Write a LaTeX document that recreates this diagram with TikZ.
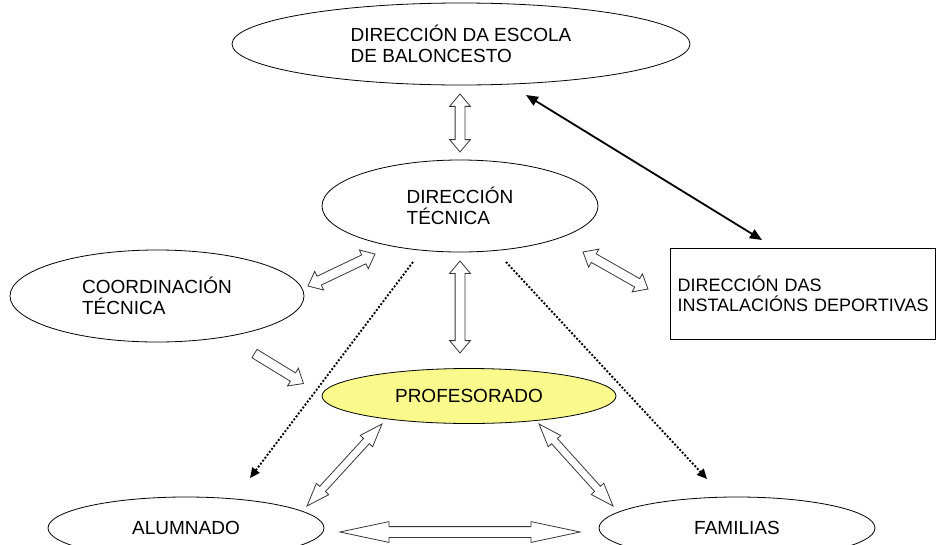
\documentclass[tikz,border=0pt]{standalone}
\usepackage{fontspec}
\setmainfont{Liberation Sans}
\usetikzlibrary{shapes.geometric,shapes.arrows,arrows.meta,calc}
\definecolor{profyellow}{RGB}{250,250,140}
\definecolor{arrgray}{RGB}{55,55,55}
\newcommand\blockarr[3][]{%
  \path let \p1=($(#3)-(#2)$), \n1={atan2(\y1,\x1)}, \n2={veclen(\x1,\y1)} in
    node[#1, rotate=\n1, minimum height=\n2] at ($(#2)!0.5!(#3)$) {};}
\begin{document}
\begin{tikzpicture}[x=1pt,y=-1pt,
  ell/.style={ellipse, draw, line width=0.8pt, inner sep=0pt, align=left,
    font=\fontsize{19}{20.5}\selectfont},
  arrbase/.style={draw=arrgray, fill=white, line width=0.8pt, inner xsep=0pt},
  dblarr/.style={arrbase, double arrow, inner ysep=4.5pt,
    double arrow head extend=5.5pt, double arrow tip angle=80},
  sglarr/.style={arrbase, single arrow, inner ysep=4.5pt,
    single arrow head extend=5.5pt, single arrow tip angle=80},
  thinarr/.style={arrbase, double arrow, inner ysep=3.5pt,
    double arrow head extend=4.5pt, double arrow tip angle=40},
  longarr/.style={arrbase, double arrow, inner ysep=5pt,
    double arrow head extend=5pt, double arrow tip angle=24},
  dotarr/.style={line width=1.9pt, dash pattern=on 1.9pt off 1.8pt,
    -{Triangle[length=10pt,width=9pt]}},
  blkarr/.style={line width=1.8pt, {Triangle[length=12pt,width=10pt]}-{Triangle[length=12pt,width=10pt]}}]
\useasboundingbox (0,0) rectangle (936,544);

% nodes
\node[ell, minimum width=458pt, minimum height=82pt] (top) at (461,44)
  {DIRECCIÓN DA ESCOLA\\DE BALONCESTO};
\node[ell, minimum width=276pt, minimum height=92pt] (dt) at (460,206)
  {DIRECCIÓN\\TÉCNICA};
\node[ell, minimum width=294pt, minimum height=92pt] (coord) at (157,296)
  {COORDINACIÓN\\TÉCNICA};
\node[ell, fill=profyellow, minimum width=294pt, minimum height=55pt] (prof) at (469,396)
  {PROFESORADO};
\node[ell, minimum width=276pt, minimum height=62pt] (alum) at (186,528)
  {ALUMNADO};
\node[ell, minimum width=276pt, minimum height=62pt] (fam) at (737,528)
  {FAMILIAS};
\node[draw, line width=0.8pt, rectangle, minimum width=265pt, minimum height=91pt,
  text width=250pt, inner xsep=7.5pt, align=left,
  font=\fontsize{18}{20}\selectfont] (inst) at (802.5,293.5)
  {\mbox{DIRECCIÓN DAS}\\\mbox{INSTALACIÓNS DEPORTIVAS}};

% connector end points
\coordinate (v1a) at (460,94);   \coordinate (v1b) at (460,152);
\coordinate (v2a) at (460,261);  \coordinate (v2b) at (460,353);
\coordinate (cda) at (308,286);  \coordinate (cdb) at (375,254);
\coordinate (dia) at (583,252);  \coordinate (dib) at (648,289);
\coordinate (cpa) at (252,352);  \coordinate (cpb) at (301,382);
\coordinate (paa) at (382,424);  \coordinate (pab) at (307,506);
\coordinate (pfa) at (539,424);  \coordinate (pfb) at (613,506);
\coordinate (afa) at (340,532);  \coordinate (afb) at (580,532);
\coordinate (bka) at (526,95);   \coordinate (bkb) at (762,240);
\coordinate (dla) at (413,262);  \coordinate (dlb) at (250,478);
\coordinate (dra) at (506,262);  \coordinate (drb) at (707,479);

% block arrows
\blockarr[dblarr]{v1a}{v1b}
\blockarr[dblarr]{v2a}{v2b}
\blockarr[dblarr]{cda}{cdb}
\blockarr[dblarr]{dia}{dib}
\blockarr[sglarr]{cpa}{cpb}
\blockarr[thinarr]{paa}{pab}
\blockarr[thinarr]{pfa}{pfb}
\blockarr[longarr]{afa}{afb}

% black arrow and dotted arrows
\draw[blkarr] (bka) -- (bkb);
\draw[dotarr] (dla) -- (dlb);
\draw[dotarr] (dra) -- (drb);
\end{tikzpicture}
\end{document}
